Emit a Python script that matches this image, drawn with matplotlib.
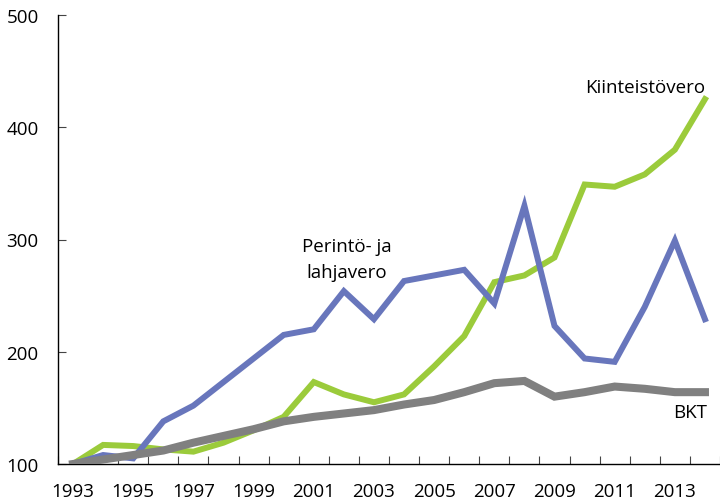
import matplotlib
matplotlib.use("Agg")
import matplotlib.pyplot as plt
from matplotlib.ticker import MultipleLocator, FixedLocator

years = list(range(1993, 2015))
perinto = [100, 108, 105, 138, 152, 173, 194, 215, 220, 254, 229, 263, 268, 273,
           243, 330, 223, 194, 191, 240, 299, 229]
kiinteisto = [100, 117, 116, 113, 111, 119, 130, 142, 173, 162, 155, 162, 187, 214,
              262, 268, 284, 349, 347, 358, 380, 425]
bkt = [100, 104, 108, 112, 119, 125, 131, 138, 142, 145, 148, 153, 157, 164,
       172, 174, 160, 164, 169, 167, 164, 164]
xlabels = [str(y) for y in range(1993, 2014, 2)]

plt.rcParams['font.family'] = ['Open Sans', 'DejaVu Sans']
FS = 13.5

fig = plt.figure(figsize=(7.2, 5.02), dpi=100)
ax = fig.add_axes([58/720, 1 - 465/502, 1 - 58/720, (465 - 16)/502])

ax.plot(years, kiinteisto, color='#9BCB3B', lw=4.3, solid_joinstyle='miter', zorder=3)
ax.plot(years, perinto, color='#6876BC', lw=4.3, solid_joinstyle='miter', zorder=4)
ax.plot(years, bkt, color='#808080', lw=5.8, solid_joinstyle='miter', zorder=5)

ax.set_xlim(1992.5, 2014.5)
ax.set_ylim(100, 500)
ax.yaxis.set_major_locator(MultipleLocator(100))
ax.set_xticks([int(s) for s in xlabels])
ax.set_xticklabels(xlabels)
ax.xaxis.set_minor_locator(FixedLocator([y + 0.5 for y in range(1992, 2015)]))

for s in ['top', 'right']:
    ax.spines[s].set_visible(False)
for s in ['left', 'bottom']:
    ax.spines[s].set_linewidth(1.0)
    ax.spines[s].set_color('black')

ax.tick_params(axis='x', which='major', length=0, pad=13, labelsize=FS)
ax.tick_params(axis='x', which='minor', direction='in', length=6, width=0.8, color='#444444')
ax.tick_params(axis='y', which='major', direction='in', length=6, width=0.8, pad=14,
               labelsize=FS, color='#444444')

ax.text(2012.0, 436, 'Kiinteistövero', fontsize=FS, ha='center', va='center')
ax.text(2002.1, 294, 'Perintö- ja', fontsize=FS, ha='center', va='center')
ax.text(2002.1, 271, 'lahjavero', fontsize=FS, ha='center', va='center')
ax.text(2013.5, 146, 'BKT', fontsize=FS, ha='center', va='center')

fig.savefig('out.png', dpi=100)
